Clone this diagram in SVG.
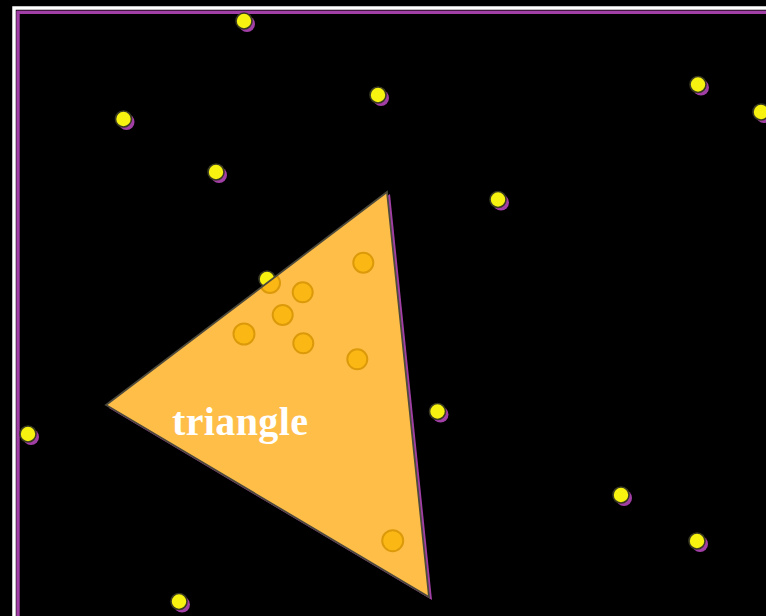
<svg xmlns="http://www.w3.org/2000/svg" width="766" height="616" viewBox="0 0 766 616">
  <defs>
    <style>
      .shadow { fill: #A23FA6; }
      .star { fill: #F7F20F; stroke: #3a3a22; stroke-width: 1.6; }
      .hole { fill: #FBB814; stroke: #DC9A0A; stroke-width: 2; }
      .label { font-family: "Liberation Serif", "Times New Roman", serif; font-weight: bold; font-size: 40px; fill: #FFFFFF; }
    </style>
    <g id="starShape">
      <circle class="shadow" cx="3" cy="3" r="8"/>
      <circle class="star" cx="0" cy="0" r="8"/>
    </g>
    <clipPath id="triClip">
      <polygon points="106,405 387,192 429,597"/>
    </clipPath>
  </defs>
  <rect x="0" y="0" width="766" height="616" fill="#000000"/>
  <!-- frame -->
  <g id="frame" fill="none">
    <rect x="14" y="8" width="800" height="700" stroke="#FFFFFF" stroke-width="3.5"/>
    <rect x="18" y="12.3" width="800" height="700" stroke="#A23FA6" stroke-width="3.4"/>
  </g>
  <!-- stars -->
  <g id="stars">
    <use href="#starShape" x="244" y="21"/>
    <use href="#starShape" x="123.5" y="119"/>
    <use href="#starShape" x="378" y="95"/>
    <use href="#starShape" x="216" y="172"/>
    <use href="#starShape" x="698" y="84.5"/>
    <use href="#starShape" x="761" y="112"/>
    <use href="#starShape" x="498" y="199.5"/>
    <use href="#starShape" x="267" y="279"/>
    <use href="#starShape" x="28" y="434"/>
    <use href="#starShape" x="437.5" y="411.5"/>
    <use href="#starShape" x="621" y="495"/>
    <use href="#starShape" x="697" y="541"/>
    <use href="#starShape" x="179" y="601.5"/>
  </g>
  <!-- triangle -->
  <g id="triangle">
    <polygon points="109,408 390,194 432,600" fill="#A23FA6"/>
    <polygon points="106,405 387,192 429,597" fill="#FFBE48"/>
    <g id="holes" clip-path="url(#triClip)">
      <circle class="hole" cx="363.3" cy="262.7" r="10"/>
      <circle class="hole" cx="302.7" cy="292.3" r="10"/>
      <circle class="hole" cx="282.7" cy="315" r="10"/>
      <circle class="hole" cx="244" cy="334" r="10.5"/>
      <circle class="hole" cx="303.3" cy="343.3" r="10"/>
      <circle class="hole" cx="357.3" cy="359.3" r="10"/>
      <circle class="hole" cx="270" cy="283" r="10"/>
      <circle class="hole" cx="392.7" cy="540.7" r="10.5"/>
    </g>
    <polygon points="106,405 387,192 429,597" fill="none" stroke="#4d4a3c" stroke-width="1.8" stroke-linejoin="miter"/>
    <text class="label" x="172" y="435" textLength="136" lengthAdjust="spacing">triangle</text>
  </g>
</svg>
